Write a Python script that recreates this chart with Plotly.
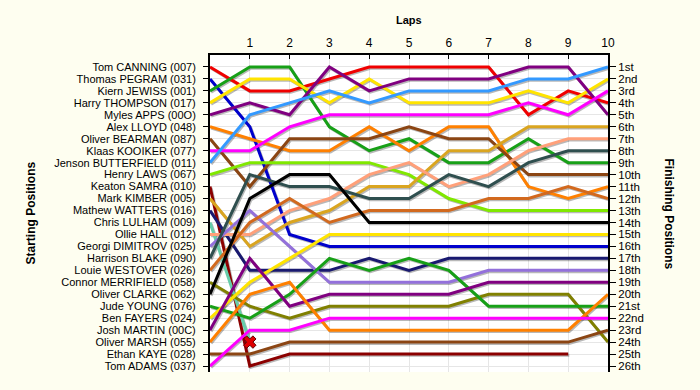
import plotly.graph_objects as go

laps = list(range(11))

drivers = [
    "Tom CANNING (007)", "Thomas PEGRAM (031)", "Kiern JEWISS (001)", "Harry THOMPSON (017)",
    "Myles APPS (00O)", "Alex LLOYD (048)", "Oliver BEARMAN (087)", "Klaas KOOIKER (077)",
    "Jenson BUTTERFIELD (011)", "Henry LAWS (067)", "Keaton SAMRA (010)", "Mark KIMBER (005)",
    "Mathew WATTERS (016)", "Chris LULHAM (009)", "Ollie HALL (012)", "Georgi DIMITROV (025)",
    "Harrison BLAKE (090)", "Louie WESTOVER (026)", "Connor MERRIFIELD (058)", "Oliver CLARKE (062)",
    "Jude YOUNG (076)", "Ben FAYERS (024)", "Josh MARTIN (00C)", "Oliver MARSH (055)",
    "Ethan KAYE (028)", "Tom ADAMS (037)",
]

colors = [
    "#F00000", "#0000CC", "#17A017", "#FFE400",
    "#800080", "#FF8000", "#8B4513", "#FF00FF",
    "#3399FF", "#80E800", "#8B0000", "#DAA520",
    "#191970", "#66CDAA", "#FFA07A", "#9370DB",
    "#2F4F4F", "#D2691E", "#808000", "#000000",
    "#17A017", "#FFE400", "#800080", "#FF8000",
    "#8B4513", "#FF00FF",
]

# position of each driver at the end of each lap (lap 0 = grid)
positions = [
    [1, 3, 3, 2, 1, 1, 1, 1, 5, 3, 4],
    [2, 6, 15, 16, 16, 16, 16, 16, 16, 16, 16],
    [3, 1, 1, 6, 8, 7, 9, 9, 7, 9, 9],
    [4, 2, 2, 4, 2, 4, 4, 4, 3, 4, 2],
    [5, 4, 5, 1, 3, 2, 2, 2, 1, 1, 5],
    [6, 7, 8, 8, 6, 8, 6, 6, 11, 12, 11],
    [7, 11, 7, 7, 7, 6, 7, 7, 10, 10, 10],
    [8, 8, 6, 5, 5, 5, 5, 5, 4, 5, 3],
    [9, 5, 4, 3, 4, 3, 3, 3, 2, 2, 1],
    [10, 9, 9, 9, 9, 10, 12, 13, 13, 13, 13],
    [11, 26, 25, 25, 25, 25, 25, 25, 25, 25],
    [12, 16, 14, 13, 11, 11, 8, 8, 6, 6, 6],
    [13, 18, 18, 18, 17, 18, 17, 17, 17, 17, 17],
    [14, 24],
    [15, 15, 13, 12, 10, 9, 11, 10, 8, 7, 7],
    [16, 13, 16, 19, 19, 19, 19, 18, 18, 18, 18],
    [17, 10, 11, 11, 12, 12, 10, 11, 9, 8, 8],
    [18, 14, 12, 14, 13, 13, 13, 12, 12, 11, 12],
    [19, 21, 22, 21, 21, 21, 21, 20, 20, 20, 24],
    [20, 12, 10, 10, 14, 14, 14, 14, 14, 14, 14],
    [21, 22, 20, 17, 18, 17, 18, 21, 21, 21, 21],
    [22, 19, 17, 15, 15, 15, 15, 15, 15, 15, 15],
    [23, 17, 21, 20, 20, 20, 20, 19, 19, 19, 19],
    [24, 20, 19, 23, 23, 23, 23, 23, 23, 23, 20],
    [25, 25, 24, 24, 24, 24, 24, 24, 24, 24, 23],
    [26, 23, 23, 22, 22, 22, 22, 22, 22, 22, 22],
]

retired_driver = "Chris LULHAM (009)"

finish_labels = ["1st", "2nd", "3rd"] + [f"{i}th" for i in range(4, 21)] + ["21st", "22nd", "23rd", "24th", "25th", "26th"]

fig = go.Figure()

# shadows
dx, dy = 0.028, 0.11
for d, c, p in zip(drivers, colors, positions):
    xs = [laps[i] + dx for i in range(len(p))]
    ys = [v + dy for v in p]
    fig.add_trace(go.Scatter(x=xs, y=ys, mode="lines",
                             line=dict(color="rgba(0,0,0,0.28)", width=3),
                             hoverinfo="skip", showlegend=False))

for d, c, p in zip(drivers, colors, positions):
    fig.add_trace(go.Scatter(x=laps[:len(p)], y=p, mode="lines", name=d,
                             line=dict(color=c, width=3), showlegend=False))

ri = drivers.index(retired_driver)
rp = positions[ri]
fig.add_trace(go.Scatter(x=[laps[len(rp) - 1]], y=[rp[-1]], mode="markers",
                         marker=dict(symbol="x", size=11, color="#E00000",
                                     line=dict(color="#600000", width=1)),
                         showlegend=False, hoverinfo="skip"))

# invisible trace for right axis
fig.add_trace(go.Scatter(x=[0], y=[1], yaxis="y2", mode="markers",
                         marker=dict(opacity=0), showlegend=False, hoverinfo="skip"))

font = dict(family="Liberation Sans, Arial, sans-serif", size=11, color="#000")

fig.update_layout(
    width=700, height=390,
    margin=dict(l=210, r=92, t=55, b=18, autoexpand=False),
    paper_bgcolor="#FEFEF0",
    plot_bgcolor="#FFFFFF",
    font=font,
    xaxis=dict(side="top", range=[0, 10], tickvals=list(range(1, 11)),
               showgrid=True, gridcolor="#E6E6E6", gridwidth=1,
               showline=True, linecolor="#000", linewidth=2,
               ticks="inside", ticklen=4, tickcolor="#000",
               zeroline=False, tickfont=dict(size=12), ticklabelstandoff=1),
    yaxis=dict(range=[26.5, 0], tickvals=list(range(1, 27)), ticktext=drivers,
               showgrid=True, gridcolor="#E6E6E6", gridwidth=1,
               showline=True, linecolor="#000", linewidth=2,
               ticks="outside", ticklen=5, tickcolor="#000", zeroline=False,
               ticklabelstandoff=5),
    yaxis2=dict(range=[26.5, 0], tickvals=list(range(1, 27)), ticktext=finish_labels,
                overlaying="y", side="right", showgrid=False,
                showline=True, linecolor="#000", linewidth=2,
                ticks="outside", ticklen=6, tickcolor="#000", zeroline=False,
                tickfont=dict(size=11.5)),
    annotations=[
        dict(text="<b>Laps</b>", x=0.5, y=1, xref="paper", yref="paper",
             yshift=35, showarrow=False, yanchor="middle", font=dict(size=11)),
        dict(text="<b>Starting Positions</b>", x=0, y=0.5, xref="paper", yref="paper",
             xshift=-180, xanchor="center", yanchor="middle",
             showarrow=False, textangle=-90, font=dict(size=12)),
        dict(text="<b>Finishing Positions</b>", x=1, y=0.5, xref="paper", yref="paper",
             xshift=61, xanchor="center", yanchor="middle",
             showarrow=False, textangle=90, font=dict(size=12)),
    ],
)

fig.write_html("out.html", config={"displayModeBar": False},
               post_script="document.body.style.margin='0';")
